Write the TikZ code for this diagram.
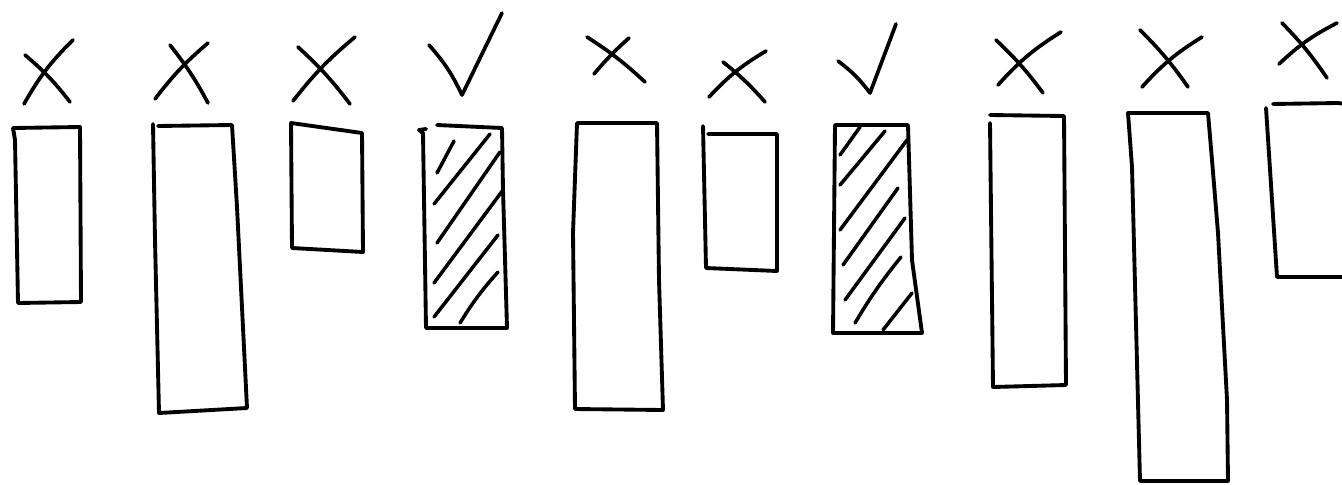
\documentclass[tikz,border=0pt]{standalone}
\usepackage{tikz}
\usetikzlibrary{calc}
\tikzset{pen/.style={draw=black,line width=2.2pt,line cap=round,line join=round},hatchline/.style={pen,line width=2pt},crossmark/.style={pen,line width=2.1pt}}

\begin{document}
\begin{tikzpicture}[x=0.02cm,y=-0.02cm]
\useasboundingbox (0,0) rectangle (1342,484);
\fill[white] (0,0) rectangle (1342,484);
\draw[crossmark] (25,55) to[bend left=6] (70,102);\draw[crossmark] (73,40) to[bend right=8] (24,104);
\draw[crossmark] (170,45) to[bend left=5] (208,103);\draw[crossmark] (208,43) to[bend right=6] (155,99);
\draw[crossmark] (298,47) to[bend left=5] (350,104);\draw[crossmark] (355,37) to[bend right=6] (293,101);
\draw[crossmark] (429,45) to[bend left=8] (462,95) -- (502,13);
\draw[crossmark] (587,37) to[bend left=5] (645,82);\draw[crossmark] (629,38) to[bend right=4] (594,74);
\draw[crossmark] (723,62) to[bend left=5] (765,102);\draw[crossmark] (766,51) to[bend right=8] (709,97);
\draw[crossmark] (838,61) to[bend left=8] (870,93) -- (896,24);
\draw[crossmark] (996,40) to[bend left=5] (1043,93);\draw[crossmark] (1061,32) to[bend right=8] (998,85);
\draw[crossmark] (1140,30) to[bend left=5] (1188,87);\draw[crossmark] (1202,37) to[bend right=8] (1142,87);
\draw[crossmark] (1282,23) to[bend left=5] (1327,78);\draw[crossmark] (1337,23) to[bend right=8] (1279,64);
\draw[pen] (13,128) -- (80,127) -- (81,302) -- (18,303) -- (15,140) -- (13,128);
\draw[pen] (158,126) -- (232,125) -- (237,207) -- (247,408) -- (159,413) -- (155,240) -- (153,124);
\draw[pen] (291,123) -- (362,133) -- (363,252) -- (292,248) -- cycle;
\draw[pen] (419,130) -- (426,129);\draw[pen] (437,125) -- (502,128) -- (503,190) -- (507,328) -- (426,328) -- (423,133) -- (419,130);
\draw[hatchline] (437,173) -- (454,141);\draw[hatchline] (434,204) -- (490,134);\draw[hatchline] (437,243) -- (500,152);
\draw[hatchline] (434,283) -- (503,190);\draw[hatchline] (434,317) -- (498,235);\draw[hatchline] (460,323) to[bend left=5] (498,272);
\draw[pen] (577,123) -- (657,123) -- (659,280) -- (663,410) -- (575,409) -- (573,233) -- cycle;
\draw[pen] (703,126) -- (706,268) -- (777,271) -- (777,134) -- (708,134);
\draw[pen] (835,125) -- (908,125) -- (912,260) -- (922,333) -- (833,333) -- cycle;
\draw[hatchline] (840,155) -- (860,127);\draw[hatchline] (840,185) -- (885,131);\draw[hatchline] (840,230) -- (907,140);
\draw[hatchline] (843,265) -- (898,188);\draw[hatchline] (845,300) -- (905,218);\draw[hatchline] (855,323) to[bend left=4] (901,257);
\draw[hatchline] (883,330) -- (912,293);
\draw[pen] (990,115) -- (1064,116) -- (1066,385) -- (993,387) -- (990,123);
\draw[pen] (1128,113) -- (1208,113) -- (1212,160) -- (1218,233) -- (1227,400) -- (1228,481) -- (1140,481) -- (1132,167) -- cycle;
\draw[pen] (1273,104) -- (1338,103) -- (1345,104);\draw[pen] (1266,108) -- (1277,277) -- (1345,277);
\end{tikzpicture}
\end{document}
